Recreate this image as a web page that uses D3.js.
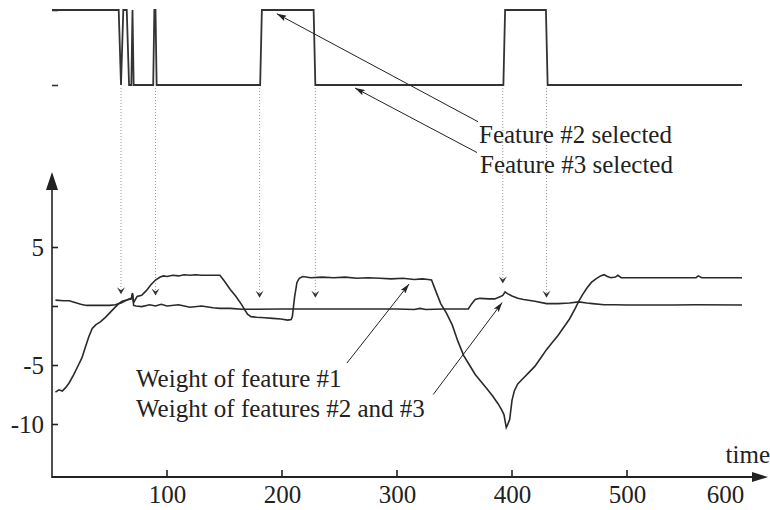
<!DOCTYPE html>
<html>
<head>
<meta charset="utf-8">
<script src="https://cdn.jsdelivr.net/npm/d3@7"></script>
<style>
  body { margin: 0; background: #fff; }
  svg text { font-family: "Liberation Serif", "Times New Roman", serif; fill: #222; }
</style>
</head>
<body>
<div id="chart"></div>
<script>
// selected feature over time (2 = feature #2, 3 = feature #3)
var selT = [0, 58, 60, 62, 65, 67, 69, 70, 71, 88, 89, 90, 91, 181, 182.5, 227.5, 229, 392.5, 394, 429.5, 431, 600];
var selV = [2, 2, 3, 2, 2, 3, 3, 2, 3, 3, 2, 2, 3, 3, 2, 2, 3, 3, 2, 2, 3, 3];

// weight of feature #1
var w1T = [3, 6, 9, 12, 15, 19, 23, 26, 29, 32, 35, 38, 42, 46, 50, 55, 58, 61, 65, 69, 70, 71, 74, 78, 82, 86, 90, 94, 97,
  100, 105, 110, 115, 120, 125, 130, 135, 140, 146, 150, 155, 160, 165, 170, 173, 178, 185, 192, 199, 205, 208, 209, 211,
  213, 215, 218, 225, 235, 245, 255, 265, 275, 285, 295, 305, 315, 322, 327, 330, 334, 338, 343, 348, 353, 358, 363, 368,
  373, 378, 383, 388, 391, 393, 395, 396, 398, 400, 402, 405, 410, 415, 420, 425, 430, 435, 440, 445, 450, 455, 458, 461,
  465, 469, 473, 477, 480, 483, 486, 490, 492, 495, 500, 520, 540, 560, 562, 565, 580, 600];
var w1V = [-7.3, -7.1, -7.2, -6.9, -6.5, -5.8, -5.0, -4.4, -3.5, -2.6, -1.9, -1.6, -1.35, -1.0, -0.6, -0.1, 0.2, 0.4, 0.5, 0.6, 1.0, 0.3, 0.8, 0.9, 1.3, 1.8, 2.2, 2.45, 2.55,
  2.5, 2.6, 2.55, 2.65, 2.6, 2.65, 2.6, 2.6, 2.6, 2.6, 2.1, 1.4, 0.8, 0.1, -0.7, -0.9, -0.95, -1.0, -1.05, -1.1, -1.2, -1.15, -0.9, 0.8,
  2.0, 2.35, 2.5, 2.4, 2.45, 2.4, 2.45, 2.35, 2.4, 2.35, 2.3, 2.35, 2.25, 2.3, 2.25, 2.2, 1.2, 0.2, -0.6, -1.6, -3.0, -4.2, -5.0, -5.8,
  -6.4, -7.0, -7.6, -8.3, -8.8, -9.2, -10.3, -10.1, -9.6, -8.0, -7.2, -6.6, -6.1, -5.6, -5.1, -4.4, -3.7, -3.1, -2.5, -1.8, -1.1, -0.2, 0.4, 0.9,
  1.5, 2.0, 2.3, 2.55, 2.65, 2.5, 2.4, 2.45, 2.6, 2.4, 2.4, 2.4, 2.4, 2.4, 2.55, 2.4, 2.4, 2.4];

// weight of features #2 and #3
var w23T = [3, 10, 15, 20, 25, 30, 40, 50, 55, 60, 63, 66, 69, 70, 71, 73, 78, 85, 90, 95, 100, 110, 120, 130, 140, 146, 155,
  165, 175, 200, 230, 260, 300, 315, 320, 325, 340, 362, 365, 368, 372, 380, 385, 390, 392, 394, 396, 400, 405, 410, 420,
  430, 440, 450, 458, 465, 470, 480, 490, 500, 540, 560, 600];
var w23V = [0.5, 0.45, 0.45, 0.3, 0.15, 0.05, 0.05, 0.05, 0.1, 0.25, 0.4, 0.55, 0.65, 1.1, 0.05, 0.0, -0.05, 0.1, 0.0, 0.15, 0.0, 0.1, -0.1, 0.0, -0.15, -0.2, -0.2,
  -0.28, -0.28, -0.25, -0.25, -0.25, -0.25, -0.3, -0.2, -0.3, -0.25, -0.25, 0.2, 0.55, 0.65, 0.6, 0.6, 0.8, 0.9, 1.2, 1.05, 0.85, 0.65, 0.55, 0.4,
  0.2, 0.2, 0.25, 0.35, 0.25, 0.2, 0.1, 0.1, 0.08, 0.08, 0.1, 0.08];

// switching instants (dotted lines) and the weight where each small arrow lands
var markT = [60, 90, 180.5, 229, 392, 430];
var markW = [1.0, 0.9, 0.7, 0.7, 1.9, 0.7];

var xTicks = [100, 200, 300, 400, 500, 600];
var yTicks = [5, 0, -5, -10];
var yTickLabels = ["5", "", "-5", "-10"];

var width = 770, height = 510;
var fontSize = "25px";

var svg = d3.select("#chart").append("svg")
  .attr("width", width)
  .attr("height", height);

var x = d3.scaleLinear().domain([0, 600]).range([52, 742]);
var y = d3.scaleLinear().domain([-10, 5]).range([424, 247]);
var ySel = d3.scaleLinear().domain([2, 3]).range([10, 85]);

var defs = svg.append("defs");
defs.append("marker")
  .attr("id", "head")
  .attr("viewBox", "0 0 10 6")
  .attr("refX", 10).attr("refY", 3)
  .attr("markerWidth", 10).attr("markerHeight", 6)
  .attr("markerUnits", "userSpaceOnUse")
  .attr("orient", "auto")
  .append("path").attr("d", "M0,0 L10,3 L0,6 L2,3 Z").attr("fill", "#222");

// ---- top panel: selected feature
svg.append("g")
  .attr("transform", "translate(52,0)")
  .call(d3.axisRight(ySel).tickValues([2, 3]).tickSize(6).tickFormat(""))
  .call(function(g) { g.select(".domain").remove(); })
  .selectAll("line").attr("stroke", "#333").attr("stroke-width", 1.6);

var selData = selT.map(function(t, i) { return [t, selV[i]]; });
svg.append("path")
  .datum(selData)
  .attr("fill", "none")
  .attr("stroke", "#333")
  .attr("stroke-width", 1.8)
  .attr("d", d3.line().x(function(d) { return x(d[0]); }).y(function(d) { return ySel(d[1]); }));

// ---- dotted lines from switches down to weights
var marks = markT.map(function(t, i) { return [t, markW[i]]; });
svg.selectAll(".drop")
  .data(marks)
  .enter().append("line")
  .attr("class", "drop")
  .attr("x1", function(d) { return x(d[0]); })
  .attr("x2", function(d) { return x(d[0]); })
  .attr("y1", ySel(3) + 3)
  .attr("y2", function(d) { return y(d[1]) - 5; })
  .attr("stroke", "#999")
  .attr("stroke-width", 1)
  .attr("stroke-dasharray", "1,2");

svg.selectAll(".droptip")
  .data(marks)
  .enter().append("path")
  .attr("class", "droptip")
  .attr("d", function(d) {
    var px = x(d[0]), py = y(d[1]);
    return "M" + (px - 4) + "," + (py - 7) + " L" + px + "," + (py - 4) + " L" + (px + 4) + "," + (py - 7) + " L" + px + "," + py + " Z";
  })
  .attr("fill", "#333");

// ---- axes of bottom panel
var xAxis = d3.axisBottom(x).tickValues(xTicks).tickSize(0).tickPadding(8);
var gx = svg.append("g")
  .attr("transform", "translate(0," + 477 + ")")
  .call(xAxis);
gx.select(".domain").remove();
gx.selectAll("text")
  .attr("font-size", fontSize)
  .attr("fill", "#222")
  .attr("dx", function(d) { return d == 600 ? -17 : 0; });

svg.selectAll(".xtick")
  .data(xTicks.filter(function(d) { return d < 600; }))
  .enter().append("line")
  .attr("x1", function(d) { return x(d); })
  .attr("x2", function(d) { return x(d); })
  .attr("y1", 477).attr("y2", 470)
  .attr("stroke", "#222").attr("stroke-width", 1.6);

svg.append("line")
  .attr("x1", 52).attr("x2", 755).attr("y1", 477).attr("y2", 477)
  .attr("stroke", "#222").attr("stroke-width", 2);
svg.append("path")
  .attr("d", "M752,472 L768,477 L752,482 Z").attr("fill", "#222");

svg.append("line")
  .attr("x1", 52).attr("x2", 52).attr("y1", 478).attr("y2", 185)
  .attr("stroke", "#222").attr("stroke-width", 1.6);
svg.append("path")
  .attr("d", "M46,190 L52,172 L58,190 Z").attr("fill", "#222");

var yAxis = d3.axisRight(y).tickValues(yTicks).tickSize(6)
  .tickFormat(function(d, i) { return yTickLabels[i]; });
var gy = svg.append("g")
  .attr("transform", "translate(52,0)")
  .call(yAxis);
gy.select(".domain").remove();
gy.selectAll("line").attr("stroke", "#222").attr("stroke-width", 1.6);
gy.selectAll("text")
  .attr("x", -8)
  .attr("text-anchor", "end")
  .attr("font-size", fontSize)
  .attr("fill", "#222");

svg.append("text")
  .attr("x", 770).attr("y", 463)
  .attr("text-anchor", "end")
  .attr("font-size", fontSize)
  .text("time");

// ---- weight curves
var line = d3.line()
  .x(function(d) { return x(d[0]); })
  .y(function(d) { return y(d[1]); });

svg.append("path")
  .datum(w1T.map(function(t, i) { return [t, w1V[i]]; }))
  .attr("fill", "none").attr("stroke", "#2a2a2a").attr("stroke-width", 1.6)
  .attr("d", line);

svg.append("path")
  .datum(w23T.map(function(t, i) { return [t, w23V[i]]; }))
  .attr("fill", "none").attr("stroke", "#2a2a2a").attr("stroke-width", 1.6)
  .attr("d", line);

// ---- annotations
function arrow(x1, y1, x2, y2) {
  svg.append("line")
    .attr("x1", x1).attr("y1", y1).attr("x2", x2).attr("y2", y2)
    .attr("stroke", "#222").attr("stroke-width", 1)
    .attr("marker-end", "url(#head)");
}
arrow(x(370.5), ySel(3.49), x(195.5), ySel(2.05));
arrow(x(369.5), ySel(3.9), x(263.5), ySel(3.04));
arrow(x(256.5), y(-4.83), x(310.5), y(1.86));
arrow(x(331.5), y(-7.5), x(391.5), y(0.3));

svg.append("text").attr("x", 479).attr("y", 143).attr("font-size", fontSize).text("Feature #2 selected");
svg.append("text").attr("x", 480).attr("y", 173).attr("font-size", fontSize).text("Feature #3 selected");
svg.append("text").attr("x", 136).attr("y", 387).attr("font-size", fontSize).text("Weight of feature #1");
svg.append("text").attr("x", 136).attr("y", 417).attr("font-size", fontSize).text("Weight of features #2 and #3");
</script>
</body>
</html>
